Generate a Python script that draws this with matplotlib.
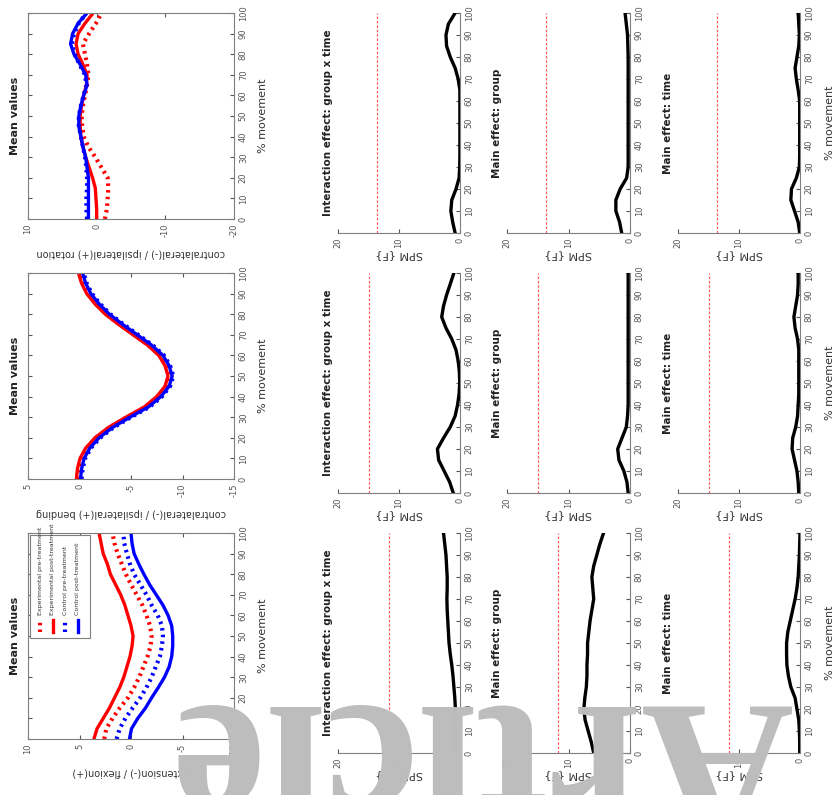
import numpy as np
import matplotlib.pyplot as plt
from matplotlib.patches import Rectangle

W, H = 838, 795

pct = np.arange(0, 101, 5)

# mean values (deg) at 0,5,...,100 % movement
rot_red_dot = [-1.2, -1.5, -1.6, -1.7, -1.6, -0.7, 0.2, 1.2, 1.9, 2.1, 2.2, 2.0, 1.7, 1.4, 1.2, 1.4, 1.7, 2.0, 1.1, 0.1, -0.7]
rot_red_sol = [0.0, 0.0, 0.1, 0.2, 0.6, 1.1, 1.6, 2.0, 2.3, 2.4, 2.4, 2.2, 1.9, 1.5, 1.4, 2.0, 2.7, 3.0, 2.7, 1.7, 0.5]
rot_blue_dot = [1.4, 1.5, 1.5, 1.4, 1.4, 1.5, 1.7, 2.0, 2.3, 2.6, 2.6, 2.3, 1.9, 1.5, 1.7, 2.5, 3.2, 3.6, 3.3, 2.6, 1.5]
rot_blue_sol = [1.2, 1.2, 1.2, 1.2, 1.2, 1.4, 1.6, 2.0, 2.3, 2.6, 2.6, 2.3, 1.9, 1.4, 1.6, 2.4, 3.3, 3.8, 3.5, 2.7, 1.4]

bend_base = [0.0, -0.1, -0.35, -0.9, -1.8, -3.1, -4.8, -6.6, -7.8, -8.6, -8.9, -8.6, -8.0, -6.9, -5.5, -4.1, -2.8, -1.8, -1.0, -0.5, -0.2]
bend_red_dot = [v + 0.2 for v in bend_base]
bend_red_sol = [v + 0.3 for v in bend_base]
bend_blue_dot = [v - 0.2 for v in bend_base]
bend_blue_sol = [v - 0.1 for v in bend_base]

flex_red_dot = [2.6, 2.4, 1.8, 1.1, 0.3, -0.3, -0.8, -1.2, -1.6, -1.9, -2.0, -1.85, -1.5, -1.1, -0.55, 0.0, 0.5, 0.9, 1.3, 1.6, 1.8]
flex_red_sol = [3.6, 3.3, 2.7, 2.1, 1.6, 1.1, 0.7, 0.4, 0.1, -0.1, -0.2, 0.0, 0.3, 0.6, 1.0, 1.5, 2.0, 2.3, 2.7, 2.9, 3.1]
flex_blue_dot = [1.4, 1.1, 0.55, -0.15, -0.9, -1.5, -2.0, -2.4, -2.8, -3.0, -3.1, -3.0, -2.6, -2.0, -1.5, -0.9, -0.3, 0.1, 0.4, 0.65, 0.75]
flex_blue_sol = [0.15, -0.05, -0.65, -1.4, -2.0, -2.65, -3.25, -3.7, -3.95, -4.05, -4.05, -3.95, -3.6, -3.1, -2.45, -1.8, -1.25, -0.75, -0.3, -0.1, 0.0]

# SPM{F} curves
spm_rot_inter = [0.8, 1.2, 1.5, 1.35, 0.65, 0.15, 0.05, 0.02, 0.02, 0.02, 0.02, 0.02, 0.02, 0.02, 0.3, 0.8, 1.6, 2.2, 2.3, 1.9, 0.8]
spm_rot_group = [1.35, 1.7, 2.3, 2.3, 1.6, 0.55, 0.3, 0.3, 0.3, 0.3, 0.3, 0.3, 0.3, 0.3, 0.3, 0.3, 0.3, 0.35, 0.4, 0.6, 0.8]
spm_rot_time = [0.05, 0.3, 0.9, 1.5, 1.4, 0.6, 0.1, 0.05, 0.05, 0.05, 0.05, 0.05, 0.05, 0.3, 0.6, 0.8, 0.5, 0.2, 0.1, 0.2, 0.3]
spm_bend_inter = [1.1, 1.7, 2.6, 3.5, 3.7, 2.7, 1.6, 0.8, 0.4, 0.15, 0.05, 0.1, 0.3, 0.65, 1.35, 2.3, 3.0, 2.7, 2.2, 1.6, 1.0]
spm_bend_group = [0.3, 0.5, 1.0, 1.8, 2.0, 1.3, 0.6, 0.4, 0.3, 0.3, 0.3, 0.3, 0.3, 0.3, 0.3, 0.3, 0.3, 0.3, 0.3, 0.3, 0.3]
spm_bend_time = [0.2, 0.3, 0.5, 0.9, 1.3, 1.2, 0.7, 0.4, 0.3, 0.2, 0.2, 0.2, 0.2, 0.2, 0.4, 0.8, 1.0, 0.7, 0.4, 0.3, 0.3]
spm_flex_inter = [0.6, 0.6, 0.65, 0.7, 0.75, 0.85, 1.0, 1.15, 1.35, 1.6, 1.8, 1.9, 2.0, 2.1, 2.15, 2.1, 2.1, 2.2, 2.3, 2.5, 2.7]
spm_flex_group = [5.9, 6.3, 6.8, 7.3, 7.5, 7.35, 7.1, 7.0, 7.0, 6.9, 6.9, 6.7, 6.5, 6.2, 5.9, 6.05, 6.2, 5.9, 5.4, 4.9, 4.3]
spm_flex_time = [0.05, 0.05, 0.1, 0.2, 0.5, 0.8, 1.5, 1.9, 2.15, 2.2, 2.2, 2.0, 1.6, 1.2, 0.8, 0.5, 0.3, 0.2, 0.1, 0.05, 0.0]

# critical thresholds per row
thresholds = [13.6, 15.0, 11.7]

legend_labels = ['Experimental pre-treatment', 'Experimental post-treatment',
                 'Control pre-treatment', 'Control post-treatment']
spm_titles = ['Interaction effect: group x time', 'Main effect: group', 'Main effect: time']

mean_ylabels = ['contralateral(-) / ipsilateral(+) rotation',
                'contralateral(-) / ipsilateral(+) bending',
                'extension(-) / flexion(+)']
mean_ticks = [[10, 0, -10, -20], [5, 0, -5, -10, -15], [10, 5, 0, -5, -10]]
mean_data = [
    [rot_red_dot, rot_red_sol, rot_blue_dot, rot_blue_sol],
    [bend_red_dot, bend_red_sol, bend_blue_dot, bend_blue_sol],
    [flex_red_dot, flex_red_sol, flex_blue_dot, flex_blue_sol],
]
spm_data = [
    [spm_rot_inter, spm_rot_group, spm_rot_time],
    [spm_bend_inter, spm_bend_group, spm_bend_time],
    [spm_flex_inter, spm_flex_group, spm_flex_time],
]

styles = [('red', (0, (0.6, 1.0))), ('red', '-'), ('blue', (0, (0.6, 1.0))), ('blue', '-')]

fig = plt.figure(figsize=(W / 100, H / 100), dpi=100)


def add_ax(x0, y0, x1, y1):
    return fig.add_axes([x0 / W, 1 - y1 / H, (x1 - x0) / W, (y1 - y0) / H])


def ftext(x, y, s, **kw):
    fig.text(x / W, 1 - y / H, s, **kw)


def pct_axis(ax):
    ax.set_ylim(0, 100)
    ax.yaxis.tick_right()
    ax.set_yticks(range(0, 101, 10))
    ax.tick_params(axis='both', labelsize=6, colors='#555555', direction='in', length=3)
    for lab in ax.get_yticklabels():
        lab.set_rotation(90)
        lab.set_va('center')
    for lab in ax.get_xticklabels():
        lab.set_rotation(90)


row_tops = [13, 273, 533]
grey = '#7f7f7f'

for r in range(3):
    top = row_tops[r]
    # mean values panel
    ax = add_ax(28, top, 234, top + 206)
    ticks = mean_ticks[r]
    for vals, (col, ls) in zip(mean_data[r], styles):
        lw = 3.0 if ls != '-' else 2.4
        ax.plot(vals, pct, color=col, ls=ls, lw=lw)
    ax.set_xlim(ticks[0], ticks[-1])
    ax.set_xticks(ticks)
    ax.set_xticklabels([str(t) for t in ticks])
    pct_axis(ax)
    ax.tick_params(top=True, left=True)
    for s in ax.spines.values():
        s.set_color(grey)
    ftext(15, top + 103, 'Mean values', rotation=90, ha='center', va='center',
          fontsize=8, fontweight='bold', color='#222222')
    ftext(263, top + 103, '% movement', rotation=90, ha='center', va='center',
          fontsize=8, color='#333333')
    ftext(131, top + 240, mean_ylabels[r], rotation=180, ha='center', va='center',
          fontsize=7, color='#333333')

    if r == 2:
        # legend, drawn in rotated orientation
        ax.add_patch(Rectangle((0.01, 0.49), 0.29, 0.50, transform=ax.transAxes,
                               facecolor='white', edgecolor=grey, lw=0.8, zorder=5))
        for i, (lab, (col, ls)) in enumerate(zip(legend_labels, styles)):
            xa = (40 + 12.5 * i - 28) / 206
            ax.plot([xa, xa], [0.52, 0.58], transform=ax.transAxes, color=col,
                    ls=ls, lw=2.4 if ls == '-' else 3.0, zorder=6)
            ax.text(xa, 0.60, lab, transform=ax.transAxes, rotation=90,
                    rotation_mode='anchor', ha='left', va='center', fontsize=4.5,
                    color='#333333', zorder=6)

    # SPM panels
    for c, (x0, x1) in enumerate([(338, 460), (507, 630), (678, 800)]):
        ax = add_ax(x0, top, x1, top + 220)
        ax.plot(spm_data[r][c], pct, color='black', lw=2.4)
        ax.axvline(thresholds[r], color='#ff5a5a', ls=(0, (2, 1.5)), lw=0.9)
        ax.set_xlim(20, 0)
        ax.set_xticks([20, 10, 0])
        ax.set_xticklabels(['20', '10', '0'])
        pct_axis(ax)
        ax.spines['top'].set_visible(False)
        ax.spines['left'].set_visible(False)
        ax.spines['bottom'].set_color(grey)
        ax.spines['right'].set_color(grey)
        ftext(x0 - 10, top + 110, spm_titles[c], rotation=90, ha='center', va='center',
              fontsize=7.5, fontweight='bold', color='#222222')
        ftext((x0 + x1) / 2, top + 242, 'SPM {F}', rotation=180, ha='center', va='center',
              fontsize=8, color='#333333')
        if c == 2:
            ftext(830, top + 110, '% movement', rotation=90, ha='center', va='center',
                  fontsize=8, color='#333333')

# watermark
fig.text(790 / W, 1 - 705 / H, 'Article', rotation=180, rotation_mode='anchor',
         ha='left', va='baseline', fontsize=152, family='Liberation Serif',
         fontweight='bold', color='#bdbdbd', zorder=20)

fig.savefig('out.png', dpi=100)
